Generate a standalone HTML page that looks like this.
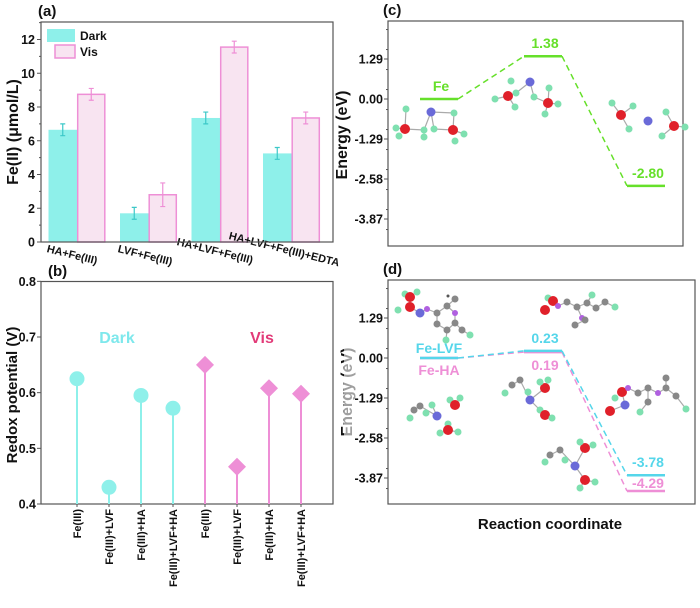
<!DOCTYPE html>
<html><head><meta charset="utf-8"><style>
body{margin:0;background:#fff;}
svg{display:block;font-family:"Liberation Sans",Arial,sans-serif;font-weight:bold;}
</style></head><body>
<svg id="fig" width="700" height="608" viewBox="0 0 700 608" xmlns="http://www.w3.org/2000/svg">
<g id="pa"></g>
<g id="pb"></g>
<g id="pc"></g>
<g id="pd"></g>
</svg>
<script>
// ---- Panel (a) data ----
const aCats = ["HA+Fe(III)", "LVF+Fe(III)", "HA+LVF+Fe(III)", "HA+LVF+Fe(III)+EDTA"];
const aDark = [6.65, 1.7, 7.35, 5.25];
const aDarkErr = [0.35, 0.35, 0.35, 0.35];
const aVis = [8.75, 2.8, 11.55, 7.35];
const aVisErr = [0.35, 0.7, 0.35, 0.35];
const aTicks = [0, 2, 4, 6, 8, 10, 12];
// ---- Panel (b) data ----
const bCats = ["Fe(III)", "Fe(III)+LVF", "Fe(III)+HA", "Fe(III)+LVF+HA", "Fe(III)", "Fe(III)+LVF", "Fe(III)+HA", "Fe(III)+LVF+HA"];
const bVals = [0.625, 0.43, 0.595, 0.572, 0.65, 0.467, 0.608, 0.598];
const bGroup = ["dark", "dark", "dark", "dark", "vis", "vis", "vis", "vis"];
const bTicks = [0.4, 0.5, 0.6, 0.7, 0.8];
// ---- Panel (c) data ----
const cLevels = [0.00, 1.38, -2.80];
const cLabels = ["Fe", "1.38", "-2.80"];
const eTicks = [1.29, 0.00, -1.29, -2.58, -3.87];
// ---- Panel (d) data ----
const dLVF = [0.00, 0.23, -3.78];
const dHA = [0.00, 0.19, -4.29];

const NS = "http://www.w3.org/2000/svg";
function mk(parent, tag, attrs, text) {
  const e = document.createElementNS(NS, tag);
  for (const k in attrs) e.setAttribute(k, attrs[k]);
  if (text !== undefined) e.textContent = text;
  parent.appendChild(e);
  return e;
}
const CYAN = "#8ef0ea", PINK = "#ee8fd6", PINKL = "#f8e4f1", GREEN = "#66e02a";

// ================= Panel (a) =================
(function () {
  const g = document.getElementById('pa');
  const L = 41, R = 333, T = 22, B = 242;
  const y = v => B - v * (B - 39.5) / 12;
  const gx = i => 77 + i * 71.5;
  const bw = 28.5;
  const t = mk(g, 'text', { x: 38, y: 16, 'font-size': 15, fill: '#111' }, '(a)');
  
  
  const labPos = [[48, 245], [119, 245], [178, 238], [230, 232]];
  aCats.forEach((c, i) => {
    const xd = gx(i) - bw, xv = gx(i);
    const bd = mk(g, 'rect', { x: xd, y: y(aDark[i]), width: bw, height: B - y(aDark[i]), fill: CYAN });
    
    
    const bv = mk(g, 'rect', { x: xv + 0.7, y: y(aVis[i]), width: bw - 1.4, height: B - y(aVis[i]), fill: PINKL, stroke: PINK, 'stroke-width': 1.5 });
    
    
    [[xd + bw / 2, aDark[i], aDarkErr[i], '#3cc8c8'], [xv + bw / 2, aVis[i], aVisErr[i], PINK]].forEach(([cx, v, e, col]) => {
      const eb = mk(g, 'path', { d: `M${cx},${y(v + e)}V${y(v - e)}M${cx - 2.5},${y(v + e)}H${cx + 2.5}M${cx - 2.5},${y(v - e)}H${cx + 2.5}`, stroke: col, 'stroke-width': 1.2, fill: 'none' });
      
      
    });
    const [lx, ly] = labPos[i];
    const lb = mk(g, 'text', { x: lx, y: ly, 'font-size': 11, fill: '#111', transform: `rotate(14 ${lx} ${ly})`, 'dominant-baseline': 'hanging' }, c);
    
    
  });
  mk(g, 'rect', { x: L, y: T, width: R - L, height: B - T, fill: 'none', stroke: '#555', 'stroke-width': 1.2 });
  aTicks.forEach(v => {
    mk(g, 'line', { x1: L - 4, x2: L, y1: y(v), y2: y(v), stroke: '#555', 'stroke-width': 1 });
    mk(g, 'line', { x1: L - 2, x2: L, y1: y(v + 1), y2: y(v + 1), stroke: '#555', 'stroke-width': 1 });
    const tl = mk(g, 'text', { x: L - 6, y: y(v) + 4.5, 'font-size': 12.5, 'text-anchor': 'end', fill: '#111' }, v);
    
    
  });
  const yt = mk(g, 'text', { x: 0, y: 0, 'font-size': 16, 'text-anchor': 'middle', fill: '#111', transform: 'translate(18 132) rotate(-90)' }, 'Fe(II) (μmol/L)');
  
  
  const l1 = mk(g, 'rect', { x: 47, y: 29, width: 28, height: 13, fill: CYAN });
  
  
  const l2 = mk(g, 'rect', { x: 55, y: 45, width: 20, height: 13, fill: PINKL, stroke: PINK, 'stroke-width': 1.5 });
  
  
  mk(g, 'text', { x: 80, y: 40, 'font-size': 12, fill: '#111' }, 'Dark');
  mk(g, 'text', { x: 80, y: 56, 'font-size': 12, fill: '#111' }, 'Vis');
})();

// ================= Panel (b) =================
(function () {
  const g = document.getElementById('pb');
  const L = 41, R = 333, T = 281.5, B = 504;
  const y = v => B - (v - 0.4) * (B - 337) / 0.3;
  const x = i => 77 + i * 32;
  mk(g, 'text', { x: 48, y: 276, 'font-size': 15, fill: '#111' }, '(b)');
  mk(g, 'rect', { x: L, y: T, width: R - L, height: B - T, fill: 'none', stroke: '#555', 'stroke-width': 1.2 });
  bTicks.forEach(v => {
    mk(g, 'line', { x1: L - 4, x2: L, y1: y(v), y2: y(v), stroke: '#555' });
    const tl = mk(g, 'text', { x: L - 5, y: y(v) + 4.5, 'font-size': 12.5, 'text-anchor': 'end', fill: '#111' }, v.toFixed(1));
    
    
  });
  bVals.forEach((v, i) => {
    const col = bGroup[i] === 'dark' ? CYAN : PINK;
    const cx = x(i), cy = y(v);
    const st = mk(g, 'line', { x1: cx, x2: cx, y1: cy, y2: B, stroke: col, 'stroke-width': 2 });
    
    
    let m;
    if (bGroup[i] === 'dark') m = mk(g, 'circle', { cx: cx, cy: cy, r: 7.5, fill: col });
    else m = mk(g, 'path', { d: `M${cx},${cy - 9}L${cx + 9},${cy}L${cx},${cy + 9}L${cx - 9},${cy}Z`, fill: col });
    
    
    mk(g, 'line', { x1: cx, x2: cx, y1: B, y2: B + 3, stroke: '#555' });
    const tl = mk(g, 'text', { x: 0, y: 0, 'font-size': 11, 'text-anchor': 'end', fill: '#111', transform: `translate(${cx + 4} 509) rotate(-90)` }, bCats[i]);
    
    
  });
  mk(g, 'text', { x: 117, y: 343, 'font-size': 16, 'text-anchor': 'middle', fill: '#7ee8ec' }, 'Dark');
  mk(g, 'text', { x: 262, y: 343, 'font-size': 16, 'text-anchor': 'middle', fill: '#e23a78' }, 'Vis');
  const yt = mk(g, 'text', { x: 0, y: 0, 'font-size': 15, 'text-anchor': 'middle', fill: '#111', transform: 'translate(17 395) rotate(-90)' }, 'Redox potential (V)');
  
  
})();

// ---- molecule helper (decorative) ----
function mol(g, atoms, bonds) {
  bonds.forEach(([a, b]) => mk(g, 'line', { x1: atoms[a][0], y1: atoms[a][1], x2: atoms[b][0], y2: atoms[b][1], stroke: '#aaa', 'stroke-width': 1.2 }));
  atoms.forEach(([x, y, t]) => {
    const c = { h: ['#7fe0b0', 3.5], o: ['#e0202a', 5], n: ['#6a6ad8', 4.5], c: ['#888', 3.5], f: ['#b060e0', 3], s: ['#555', 1.5] }[t];
    mk(g, 'circle', { cx: x, cy: y, r: c[1], fill: c[0] });
  });
}

function energyPanel(g, L, R, T, B, y0, label) {
  const y = v => y0 - v * 40 / 1.29;
  mk(g, 'rect', { x: L, y: T, width: R - L, height: B - T, fill: 'none', stroke: '#555', 'stroke-width': 1.2 });
  for (let v = -5.5; v <= 4; v += 0.645) {
    const yy = y(v); if (yy < T + 2 || yy > B - 2) continue;
    mk(g, 'line', { x1: L - 2, x2: L, y1: yy, y2: yy, stroke: '#555' });
  }
  eTicks.forEach(v => {
    mk(g, 'line', { x1: L - 4, x2: L, y1: y(v), y2: y(v), stroke: '#555' });
    const tl = mk(g, 'text', { x: L - 5, y: y(v) + 4.5, 'font-size': 12.5, 'text-anchor': 'end', fill: '#111' }, v.toFixed(2));
    
    
  });
  mk(g, 'text', { x: L - 5, y: T - 6, 'font-size': 15, fill: '#111' }, label);
  return y;
}
const xs = [[420, 458], [524, 562], [627, 665]];

// ================= Panel (c) =================
(function () {
  const g = document.getElementById('pc');
  const y = energyPanel(g, 388, 683, 21, 246, 99, '(c)');
  const yt = mk(g, 'text', { x: 0, y: 0, 'font-size': 16, 'text-anchor': 'middle', fill: '#111', transform: 'translate(347 135) rotate(-90)' }, 'Energy (eV)');
  
  
  mol(g, [[406, 109, 'h'], [431, 112, 'n'], [454, 113, 'h'], [396, 128, 'h'], [405, 129, 'o'], [399, 136, 'h'], [424, 130, 'h'], [434, 129, 'h'], [453, 130, 'o'], [464, 134, 'h'], [455, 141, 'h'], [424, 137, 'h']],
    [[0, 4], [4, 6], [6, 1], [1, 2], [2, 8], [1, 7], [7, 8], [4, 3], [8, 9]]);
  mol(g, [[511, 81, 'h'], [530, 82, 'n'], [516, 93, 'h'], [508, 96, 'o'], [495, 99, 'h'], [515, 107, 'h'], [534, 97, 'h'], [548, 103, 'o'], [549, 88, 'h'], [558, 104, 'h'], [545, 114, 'h']],
    [[1, 2], [2, 3], [3, 4], [3, 5], [1, 6], [6, 7], [7, 8], [7, 9], [7, 10]]);
  mol(g, [[612, 103, 'h'], [633, 106, 'h'], [621, 115, 'o'], [629, 129, 'h'], [648, 121, 'n'], [666, 112, 'h'], [674, 126, 'o'], [685, 127, 'h'], [662, 136, 'h']],
    [[0, 2], [1, 2], [2, 3], [5, 6], [6, 7], [6, 8]]);
  const pts = cLevels.map((v, i) => [xs[i], y(v)]);
  let d = '';
  for (let i = 0; i < pts.length - 1; i++) d += `M${pts[i][0][1]},${pts[i][1]}L${pts[i + 1][0][0]},${pts[i + 1][1]}`;
  const cn = mk(g, 'path', { d: d, stroke: GREEN, 'stroke-width': 1.5, 'stroke-dasharray': '6,4', fill: 'none' });
  
  
  cLevels.forEach((v, i) => {
    const l = mk(g, 'line', { x1: xs[i][0], x2: xs[i][1], y1: y(v), y2: y(v), stroke: GREEN, 'stroke-width': 2.5 });
    
    
    const tl = mk(g, 'text', { x: (xs[i][0] + xs[i][1]) / 2 + 2, y: y(v) - 8, 'font-size': 14, 'text-anchor': 'middle', fill: GREEN }, cLabels[i]);
    
    
  });
})();

// ================= Panel (d) =================
(function () {
  const g = document.getElementById('pd');
  const yt = mk(g, 'text', { x: 0, y: 0, 'font-size': 16, 'text-anchor': 'middle', fill: '#111', transform: 'translate(352 392) rotate(-90)' }, 'Energy (eV)');
  
  
  mk(g, 'rect', { x: 344, y: 300, width: 41, height: 200, fill: '#fff', 'fill-opacity': 0.6 });
  const y = energyPanel(g, 388, 695, 280, 504, 358, '(d)');
  const xt = mk(g, 'text', { x: 550, y: 529, 'font-size': 15, 'text-anchor': 'middle', fill: '#111' }, 'Reaction coordinate');
  
  
  // decorative molecules
  mol(g, [[405, 294, 'h'], [410, 297, 'o'], [417, 292, 'h'], [410, 307, 'o'], [398, 310, 'h'], [420, 313, 'n'], [427, 309, 'f'], [437, 313, 'c'], [447, 306, 'c'], [455, 313, 'f'], [455, 323, 'c'], [447, 330, 'c'], [437, 324, 'c'], [462, 330, 'c'], [470, 335, 'h'], [446, 340, 'h'], [455, 299, 'c'], [448, 296, 's']],
    [[1, 3], [3, 5], [5, 6], [6, 7], [7, 8], [8, 9], [9, 10], [10, 11], [11, 12], [12, 7], [10, 13], [13, 14], [11, 15], [8, 16]]);
  mol(g, [[548, 298, 'h'], [553, 301, 'o'], [545, 310, 'o'], [558, 306, 'f'], [567, 302, 'c'], [577, 307, 'c'], [587, 303, 'c'], [596, 308, 'c'], [605, 302, 'c'], [615, 307, 'h'], [582, 318, 'f'], [575, 325, 'c'], [585, 320, 'c'], [592, 295, 'h']],
    [[1, 3], [3, 4], [4, 5], [5, 6], [6, 7], [7, 8], [8, 9], [5, 10], [10, 12], [12, 11], [6, 13]]);
  mol(g, [[414, 410, 'c'], [420, 406, 'c'], [426, 413, 'h'], [410, 418, 'h'], [437, 416, 'n'], [432, 405, 'h'], [450, 400, 'h'], [455, 405, 'o'], [460, 398, 'h'], [448, 424, 'h'], [448, 430, 'o'], [458, 432, 'h'], [440, 433, 'h']],
    [[0, 1], [1, 4], [4, 5], [6, 7], [7, 8], [9, 10], [10, 11], [10, 12]]);
  mol(g, [[512, 385, 'c'], [520, 380, 'c'], [505, 393, 'h'], [528, 392, 'h'], [530, 400, 'n'], [545, 388, 'o'], [548, 380, 'h'], [540, 382, 'h'], [540, 410, 'h'], [545, 415, 'o'], [552, 418, 'h']],
    [[0, 1], [1, 4], [4, 5], [5, 6], [5, 7], [4, 8], [8, 9], [9, 10]]);
  mol(g, [[615, 398, 'h'], [622, 392, 'o'], [625, 405, 'n'], [628, 388, 'f'], [610, 411, 'o'], [638, 393, 'c'], [648, 388, 'c'], [658, 393, 'f'], [666, 388, 'c'], [666, 378, 'c'], [676, 396, 'c'], [686, 409, 'h'], [648, 402, 'c'], [640, 412, 'h']],
    [[1, 2], [1, 3], [3, 5], [5, 6], [6, 7], [7, 8], [8, 9], [8, 10], [10, 11], [6, 12], [12, 13], [2, 4]]);
  mol(g, [[550, 455, 'c'], [560, 450, 'c'], [545, 462, 'h'], [565, 460, 'h'], [575, 466, 'n'], [585, 448, 'o'], [580, 442, 'h'], [593, 445, 'h'], [585, 480, 'o'], [595, 482, 'h'], [580, 488, 'h']],
    [[0, 1], [1, 4], [4, 5], [5, 6], [5, 7], [4, 8], [8, 9], [8, 10]]);
  [[dHA, PINK], [dLVF, '#55d6ea']].forEach(([vals, col], k) => {
    let d = '';
    for (let i = 0; i < vals.length - 1; i++) d += `M${xs[i][1]},${y(vals[i])}L${xs[i + 1][0]},${y(vals[i + 1])}`;
    const cn = mk(g, 'path', { d: d, stroke: col, 'stroke-width': 1.5, 'stroke-dasharray': '6,4', fill: 'none' });
    
    
    vals.forEach((v, i) => {
      const l = mk(g, 'line', { x1: xs[i][0], x2: xs[i][1], y1: y(v), y2: y(v), stroke: col, 'stroke-width': 2.5 });
      
      
    });
  });
  const lab = (x, yy, col, s) => {
    const t = mk(g, 'text', { x: x, y: yy, 'font-size': 14, 'text-anchor': 'middle', fill: col }, s);
    
    
  };
  lab(439, y(dLVF[0]) - 5, '#55d6ea', 'Fe-LVF');
  lab(439, y(dHA[0]) + 17, PINK, 'Fe-HA');
  lab(545, y(dLVF[1]) - 8, '#55d6ea', dLVF[1].toFixed(2));
  lab(545, y(dHA[1]) + 18, PINK, dHA[1].toFixed(2));
  lab(648, y(dLVF[2]) - 8, '#55d6ea', dLVF[2].toFixed(2));
  lab(648, y(dHA[2]) - 3, PINK, dHA[2].toFixed(2));
})();
</script>
</body></html>
